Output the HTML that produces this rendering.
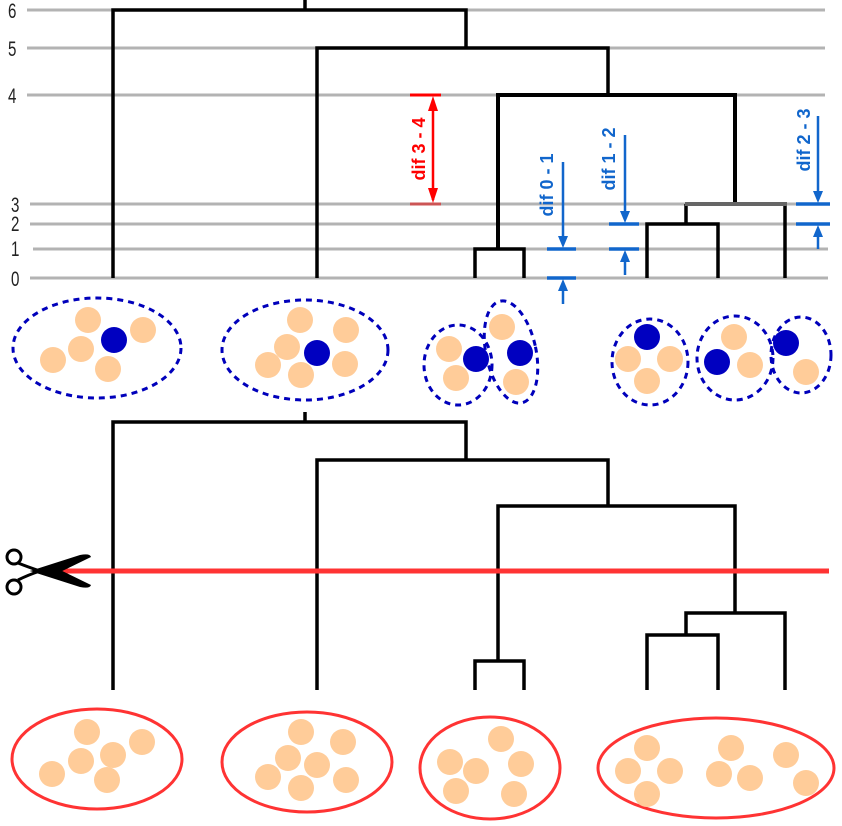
<!DOCTYPE html>
<html><head><meta charset="utf-8"><style>html,body{margin:0;padding:0;background:#fff}svg{display:block}</style></head>
<body>
<svg width="842" height="826" viewBox="0 0 842 826" xmlns="http://www.w3.org/2000/svg" font-family="'Liberation Sans', sans-serif">
<g stroke="#b3b3b3" stroke-width="3">
<line x1="27" y1="10" x2="825" y2="10"/><line x1="27" y1="48" x2="825" y2="48"/><line x1="27" y1="95" x2="825" y2="95"/>
<line x1="30" y1="204" x2="825" y2="204"/><line x1="30" y1="224" x2="828" y2="224"/><line x1="33" y1="249" x2="828" y2="249"/><line x1="30" y1="278" x2="828" y2="278"/>
</g>
<g font-size="21" fill="#222" font-family="'Liberation Sans', sans-serif">
<text transform="translate(8,18) scale(0.72,1)">6</text><text transform="translate(8,56) scale(0.72,1)">5</text><text transform="translate(8,103) scale(0.72,1)">4</text>
<text transform="translate(11,212) scale(0.72,1)">3</text><text transform="translate(11,231) scale(0.72,1)">2</text><text transform="translate(11,256) scale(0.72,1)">1</text><text transform="translate(11,286) scale(0.72,1)">0</text>
</g>
<g stroke="#000" stroke-width="3.5" fill="none">
<polyline points="305,0 305,10"/><polyline points="113,278 113,10 466,10 466,48"/>
<polyline points="317,278 317,48 608,48 608,95"/>
<polyline points="498,249 498,95 735,95 735,204" stroke-width="4"/>
<polyline points="475,278 475,249 524,249 524,278"/>
<polyline points="686,224 686,204"/>
<polyline points="647,278 647,224 718,224 718,278"/>
<polyline points="785,278 785,204"/>
</g>
<line x1="685" y1="204" x2="787" y2="204" stroke="#666" stroke-width="4"/>
<g stroke="#f00" stroke-width="2.5"><line x1="410" y1="95" x2="441" y2="95" stroke-width="3"/><line x1="410" y1="204" x2="441" y2="204" stroke="#c55" stroke-width="3"/><line x1="433" y1="100" x2="433" y2="200"/></g>
<polygon points="433,96 428,111 438,111" fill="#f00"/><polygon points="433,203 428,188 438,188" fill="#f00"/>
<text transform="translate(425,149) rotate(-90)" text-anchor="middle" font-size="18" font-weight="bold" fill="#f00">dif 3 - 4</text>
<g stroke="#1166cc" stroke-width="2.5">
<line x1="547" y1="249" x2="576" y2="249" stroke-width="3.5"/><line x1="547" y1="278" x2="576" y2="278" stroke-width="3.5"/>
<line x1="563" y1="162" x2="563" y2="240"/><line x1="563" y1="288" x2="563" y2="304"/>
<line x1="609" y1="224" x2="639" y2="224" stroke-width="3.5"/><line x1="609" y1="249" x2="639" y2="249" stroke-width="3.5"/>
<line x1="625" y1="135" x2="625" y2="215"/><line x1="625" y1="258" x2="625" y2="275"/>
<line x1="796" y1="204" x2="830" y2="204" stroke-width="3.5"/><line x1="796" y1="224" x2="830" y2="224" stroke-width="3.5"/>
<line x1="818" y1="116" x2="818" y2="195"/><line x1="818" y1="233" x2="818" y2="249"/>
</g>
<g fill="#1166cc">
<polygon points="563,248 558,236 568,236"/><polygon points="563,279 558,291 568,291"/>
<polygon points="625,223 620,211 630,211"/><polygon points="625,250 620,262 630,262"/>
<polygon points="818,203 813,191 823,191"/><polygon points="818,225 813,237 823,237"/>
</g>
<g font-size="18" font-weight="bold" fill="#1166cc" text-anchor="middle">
<text transform="translate(553,185) rotate(-90)">dif 0 - 1</text>
<text transform="translate(615,159) rotate(-90)">dif 1 - 2</text>
<text transform="translate(810,140) rotate(-90)">dif 2 - 3</text>
</g>
<g stroke="#0000bb" stroke-width="3" stroke-dasharray="6,5" fill="none">
<ellipse cx="97" cy="348" rx="84" ry="50"/><ellipse cx="305" cy="350" rx="83" ry="50"/>
<ellipse cx="458" cy="365" rx="34" ry="40"/><ellipse cx="511" cy="352" rx="25" ry="52" transform="rotate(-12 511 352)"/>
<ellipse cx="650" cy="362" rx="38" ry="43"/><ellipse cx="735" cy="358" rx="38" ry="42"/><ellipse cx="801" cy="355" rx="30" ry="38"/>
</g>
<g fill="#ffcc99">
<circle cx="88" cy="320" r="13"/><circle cx="143" cy="330" r="13"/><circle cx="81" cy="349" r="13"/><circle cx="53" cy="360" r="13"/><circle cx="108" cy="369" r="13"/>
<circle cx="300" cy="320" r="13"/><circle cx="346" cy="330" r="13"/><circle cx="287" cy="347" r="13"/><circle cx="268" cy="365" r="13"/><circle cx="301" cy="375" r="13"/><circle cx="345" cy="364" r="13"/>
<circle cx="449" cy="349" r="13"/><circle cx="456" cy="378" r="13"/><circle cx="502" cy="327" r="13"/><circle cx="516" cy="382" r="13"/>
<circle cx="628" cy="359" r="13"/><circle cx="670" cy="359" r="13"/><circle cx="647" cy="381" r="13"/>
<circle cx="734" cy="337" r="13"/><circle cx="750" cy="365" r="13"/><circle cx="806" cy="372" r="13"/>
</g>
<g fill="#0000c0">
<circle cx="114" cy="340" r="13"/><circle cx="317" cy="353" r="13"/><circle cx="476" cy="359" r="13"/><circle cx="520" cy="353" r="13"/>
<circle cx="647" cy="337" r="13"/><circle cx="717" cy="362" r="13"/><circle cx="786" cy="343" r="13"/>
</g>
<g stroke="#000" stroke-width="3.5" fill="none">
<polyline points="305,412 305,422"/><polyline points="113,690 113,422 466,422 466,460"/>
<polyline points="317,690 317,460 608,460 608,506"/>
<polyline points="498,661 498,506 735,506 735,613"/>
<polyline points="475,690 475,661 524,661 524,690"/>
<polyline points="785,690 785,613 686,613 686,635"/>
<polyline points="647,690 647,635 718,635 718,690"/>
</g>
<line x1="57" y1="571" x2="829" y2="571" stroke="#f33" stroke-width="5"/>
<g fill="#000">
<path d="M30,571 L80,555 Q90,553 91,557 L52,576 Z"/>
<path d="M30,571 L80,587 Q90,589 91,585 L52,566 Z"/>
</g>
<g stroke="#000" stroke-width="3" fill="#fff">
<path d="M18,563 Q28,567 40,571" fill="none"/><path d="M18,580 Q28,575 40,571" fill="none"/>
<circle cx="14" cy="557" r="7"/><circle cx="14" cy="587" r="7"/>
</g>
<g stroke="#f33" stroke-width="3" fill="none">
<ellipse cx="97" cy="759" rx="85" ry="50"/><ellipse cx="307" cy="762" rx="85" ry="50"/>
<ellipse cx="490" cy="768" rx="70" ry="51"/><ellipse cx="716" cy="768" rx="118" ry="50"/>
</g>
<g fill="#ffcc99">
<circle cx="87" cy="732" r="13"/><circle cx="142" cy="742" r="13"/><circle cx="113" cy="755" r="13"/><circle cx="81" cy="761" r="13"/><circle cx="52" cy="774" r="13"/><circle cx="107" cy="780" r="13"/>
<circle cx="301" cy="732" r="13"/><circle cx="343" cy="742" r="13"/><circle cx="288" cy="758" r="13"/><circle cx="317" cy="765" r="13"/><circle cx="268" cy="777" r="13"/><circle cx="346" cy="780" r="13"/><circle cx="301" cy="788" r="13"/>
<circle cx="501" cy="739" r="13"/><circle cx="450" cy="762" r="13"/><circle cx="476" cy="771" r="13"/><circle cx="521" cy="764" r="13"/><circle cx="456" cy="791" r="13"/><circle cx="514" cy="794" r="13"/>
<circle cx="647" cy="748" r="13"/><circle cx="628" cy="771" r="13"/><circle cx="670" cy="771" r="13"/><circle cx="647" cy="794" r="13"/><circle cx="731" cy="748" r="13"/><circle cx="719" cy="774" r="13"/><circle cx="750" cy="778" r="13"/><circle cx="786" cy="755" r="13"/><circle cx="806" cy="783" r="13"/>
</g>
</svg>
</body></html>
